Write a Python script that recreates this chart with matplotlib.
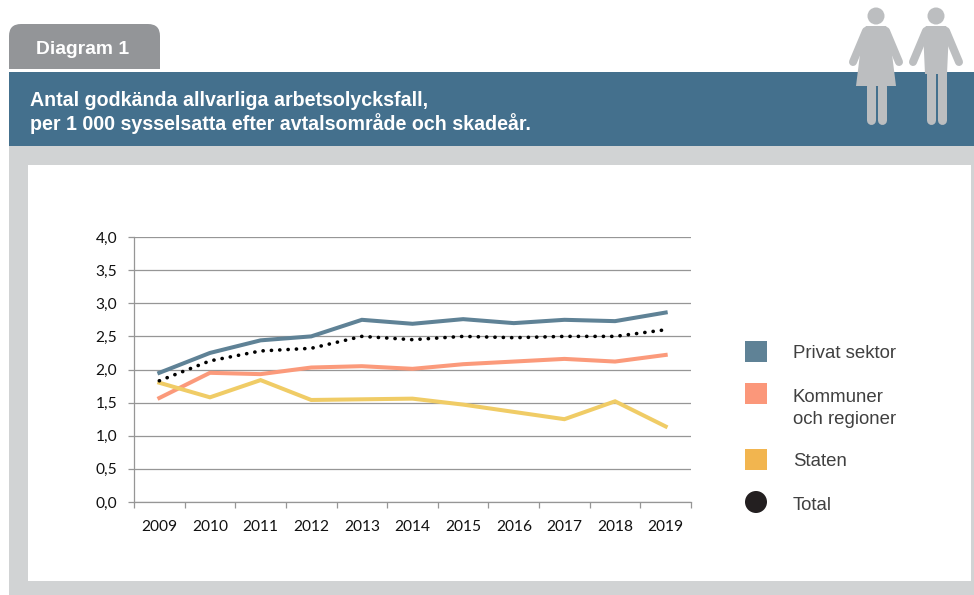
import matplotlib
matplotlib.use('Agg')
import matplotlib.pyplot as plt
from matplotlib.patches import Rectangle, Circle, Polygon, PathPatch
from matplotlib.path import Path

# Data
years = ['2009', '2010', '2011', '2012', '2013', '2014', '2015', '2016', '2017', '2018', '2019']
privat = [1.95, 2.25, 2.44, 2.50, 2.75, 2.69, 2.76, 2.70, 2.75, 2.73, 2.86]
kommuner = [1.57, 1.95, 1.93, 2.03, 2.05, 2.01, 2.08, 2.12, 2.16, 2.12, 2.22]
staten = [1.80, 1.58, 1.84, 1.54, 1.55, 1.56, 1.47, 1.36, 1.25, 1.52, 1.14]
total = [1.83, 2.13, 2.28, 2.32, 2.50, 2.45, 2.50, 2.48, 2.50, 2.50, 2.60]
y_ticks = [0, 0.5, 1, 1.5, 2, 2.5, 3, 3.5, 4]
y_labels = ['0,0', '0,5', '1,0', '1,5', '2,0', '2,5', '3,0', '3,5', '4,0']

W, H = 974, 595
BLUE = '#44708d'
PANEL = '#d1d3d4'
TAB = '#939598'
FIGURE = '#bcbec0'
C_PRIVAT = '#5f8296'
C_KOMMUN = '#fb9a7b'
C_STATEN = '#f0cc66'
GRID = '#969696'
TEXT = '#404040'

fig = plt.figure(figsize=(W / 100, H / 100), dpi=100, facecolor='white')

# Background layer in pixel coordinates
bg = fig.add_axes([0, 0, 1, 1])
bg.set_xlim(0, W)
bg.set_ylim(H, 0)
bg.axis('off')

# Tab, with only the top corners rounded
tab = Path([(9, 69), (9, 36), (9, 24), (21, 24), (148, 24), (160, 24), (160, 36), (160, 69), (9, 69)],
           [Path.MOVETO, Path.LINETO, Path.CURVE3, Path.CURVE3, Path.LINETO,
            Path.CURVE3, Path.CURVE3, Path.LINETO, Path.CLOSEPOLY])
bg.add_patch(PathPatch(tab, fc=TAB, ec='none'))
bg.text(36, 50, 'Diagram 1', color='white', fontsize=13.9, fontweight='bold',
        family='Liberation Sans', va='center')

bg.add_patch(Rectangle((9, 72), W - 9, 74, fc=BLUE, ec='none'))
bg.add_patch(Rectangle((9, 146), W - 9, H - 146, fc=PANEL, ec='none'))
bg.add_patch(Rectangle((28, 165), 943, 416, fc='white', ec='none'))

bg.text(30, 100, 'Antal godkända allvarliga arbetsolycksfall,', color='white', fontsize=14.1,
        fontweight='bold', family='Liberation Sans', va='center')
bg.text(30, 124, 'per 1 000 sysselsatta efter avtalsområde och skadeår.', color='white', fontsize=14.1,
        fontweight='bold', family='Liberation Sans', va='center')


def limb(x0, y0, x1, y1, width):
    bg.plot([x0, x1], [y0, y1], color=FIGURE, lw=width * 0.72, solid_capstyle='round', zorder=3)


# Woman
bg.add_patch(Circle((876, 16), 8.5, fc=FIGURE, ec='none', zorder=3))
bg.add_patch(Polygon([(866, 26), (886, 26), (889, 30), (896, 86), (856, 86), (863, 30)],
                     fc=FIGURE, ec='none', zorder=3))
limb(866, 31, 853, 62, 8)
limb(886, 31, 899, 62, 8)
limb(870.5, 86, 870.5, 119.5, 9)
limb(881.5, 86, 881.5, 119.5, 9)

# Man
bg.add_patch(Circle((936, 16), 8.5, fc=FIGURE, ec='none', zorder=3))
bg.add_patch(Polygon([(926, 26), (946, 26), (949, 30), (947, 74), (925, 74), (923, 30)],
                     fc=FIGURE, ec='none', zorder=3))
limb(926, 31, 913, 62, 8)
limb(946, 31, 959, 62, 8)
limb(930.5, 70, 930.5, 119.5, 9)
limb(941.5, 70, 941.5, 119.5, 9)

# Chart
ax = fig.add_axes([134 / W, 1 - 502 / H, 557 / W, 265 / H])
ax.patch.set_alpha(0)
x = list(range(len(years)))
ax.plot(x, privat, color=C_PRIVAT, lw=2.9, solid_joinstyle='miter', zorder=3)
ax.plot(x, kommuner, color=C_KOMMUN, lw=2.9, solid_joinstyle='miter', zorder=3)
ax.plot(x, staten, color=C_STATEN, lw=2.9, solid_joinstyle='miter', zorder=3)
ax.plot(x, total, color='black', lw=2.6, linestyle=(0, (0.05, 2.26)), dash_capstyle='round', zorder=4)

ax.set_xlim(-0.5, len(years) - 0.5)
ax.set_ylim(0, 4)
ax.set_yticks(y_ticks)
ax.set_yticklabels(y_labels)
ax.set_xticks(x)
ax.set_xticklabels(years)
ax.set_xticks([i - 0.5 for i in range(len(years) + 1)], minor=True)
ax.grid(axis='y', color=GRID, lw=0.9)
ax.set_axisbelow(True)
for side in ['top', 'right']:
    ax.spines[side].set_visible(False)
for side in ['left', 'bottom']:
    ax.spines[side].set_color(GRID)
    ax.spines[side].set_linewidth(0.9)
ax.tick_params(axis='x', which='major', length=0, pad=13, labelsize=11.2, labelcolor='#111111')
ax.tick_params(axis='x', which='minor', length=4, width=0.9, color=GRID)
ax.tick_params(axis='y', length=4, width=0.9, color=GRID, pad=8, labelsize=11.2, labelcolor='#111111')
for lab in ax.get_xticklabels() + ax.get_yticklabels():
    lab.set_family('Lato')

# Legend
bg.add_patch(Rectangle((745, 341), 22, 21, fc=C_PRIVAT, ec='none'))
bg.add_patch(Rectangle((745, 383), 22, 21, fc='#fb977a', ec='none'))
bg.add_patch(Rectangle((745, 449), 22, 21, fc='#f2b54f', ec='none'))
bg.add_patch(Circle((756, 502), 11, fc='#231f20', ec='none'))
for ty, label in [(354, 'Privat sektor'), (397, 'Kommuner'), (419, 'och regioner'),
                  (462, 'Staten'), (505, 'Total')]:
    bg.text(793, ty, label, color=TEXT, fontsize=13.4, family='Liberation Sans', va='center')

fig.savefig('out.png', dpi=100)
